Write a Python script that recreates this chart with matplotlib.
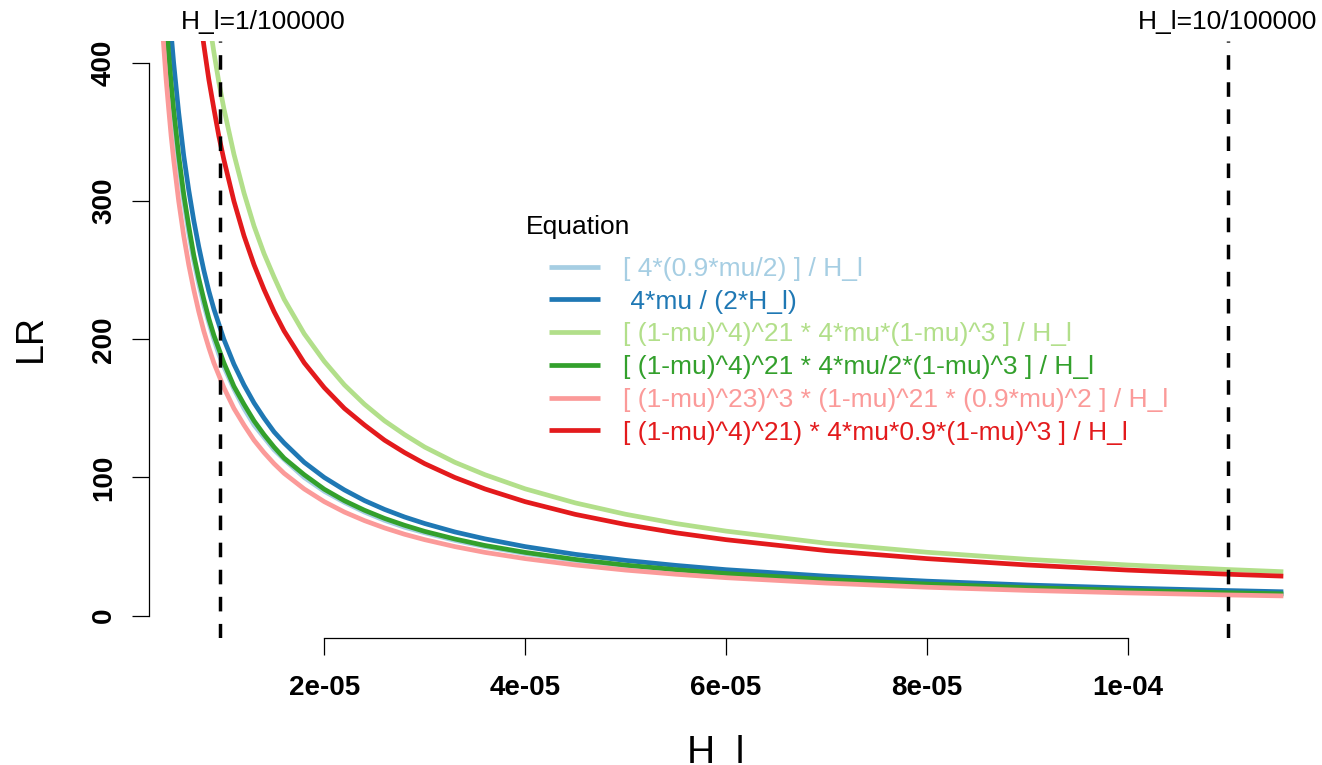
import matplotlib
matplotlib.use("Agg")
import matplotlib.pyplot as plt

plt.rcParams['font.family'] = ['Liberation Sans', 'DejaVu Sans']

# H_l values (x) and LR
h_l = [0.35e-5, 0.375e-5, 0.4e-5, 0.425e-5, 0.45e-5, 0.475e-5, 0.5e-5,
       0.55e-5, 0.6e-5, 0.65e-5, 0.7e-5, 0.75e-5, 0.8e-5, 0.85e-5, 0.9e-5, 0.95e-5, 1.0e-5,
       1.1e-5, 1.2e-5, 1.3e-5, 1.4e-5, 1.5e-5, 1.6e-5, 1.8e-5, 2.0e-5,
       2.2e-5, 2.4e-5, 2.6e-5, 2.8e-5, 3.0e-5,
       3.3e-5, 3.6e-5, 4.0e-5, 4.5e-5, 5.0e-5, 5.5e-5, 6.0e-5,
       7.0e-5, 8.0e-5, 9.0e-5, 10.0e-5, 11.0e-5, 11.55e-5]

lr_light_blue = [514, 480, 450, 424, 400, 379, 360,
                 327, 300, 277, 257, 240, 225, 212, 200, 189, 180,
                 164, 150, 138, 129, 120, 113, 100, 90,
                 82, 75, 69, 64, 60,
                 54.5, 50, 45, 40, 36, 32.7, 30,
                 25.7, 22.5, 20, 18, 16.4, 15.6]
lr_blue = [571, 533, 500, 471, 444, 421, 400,
           364, 333, 308, 286, 267, 250, 235, 222, 211, 200,
           182, 167, 154, 143, 133, 125, 111, 100,
           91, 83.3, 76.9, 71.4, 66.7,
           60.6, 55.6, 50, 44.4, 40, 36.4, 33.3,
           28.6, 25, 22.2, 20, 18.2, 17.3]
lr_light_green = [1049, 979, 918, 864, 816, 773, 734,
                  667, 612, 565, 524, 489, 459, 432, 408, 386, 367,
                  334, 306, 282, 262, 245, 229, 204, 184,
                  167, 153, 141, 131, 122,
                  111, 102, 91.8, 81.6, 73.4, 66.7, 61.2,
                  52.4, 45.9, 40.8, 36.7, 33.4, 31.8]
lr_green = [523, 488, 458, 431, 407, 385, 366,
            333, 305, 282, 261, 244, 229, 215, 203, 193, 183,
            166, 153, 141, 131, 122, 114, 102, 91.5,
            83.2, 76.3, 70.4, 65.4, 61,
            55.5, 50.8, 45.8, 40.7, 36.6, 33.3, 30.5,
            26.1, 22.9, 20.3, 18.3, 16.6, 15.8]
lr_pink = [471, 440, 413, 388, 367, 347, 330,
           300, 275, 254, 236, 220, 206, 194, 183, 174, 165,
           150, 138, 127, 118, 110, 103, 91.7, 82.5,
           75, 68.8, 63.5, 58.9, 55,
           50, 45.8, 41.3, 36.7, 33, 30, 27.5,
           23.6, 20.6, 18.3, 16.5, 15, 14.3]
lr_red = [943, 880, 825, 776, 733, 695, 660,
          600, 550, 508, 471, 440, 413, 388, 367, 347, 330,
          300, 275, 254, 236, 220, 206, 183, 165,
          150, 138, 127, 118, 110,
          100, 91.7, 82.5, 73.3, 66, 60, 55,
          47.1, 41.3, 36.7, 33, 30, 28.6]

labels = [
    "[ 4*(0.9*mu/2) ] / H_l",
    " 4*mu / (2*H_l)",
    "[ (1-mu)^4)^21 * 4*mu*(1-mu)^3 ] / H_l",
    "[ (1-mu)^4)^21 * 4*mu/2*(1-mu)^3 ] / H_l",
    "[ (1-mu)^23)^3 * (1-mu)^21 * (0.9*mu)^2 ] / H_l",
    "[ (1-mu)^4)^21) * 4*mu*0.9*(1-mu)^3 ] / H_l",
]
colors = ['#A6CEE3', '#1F78B4', '#B2DF8A', '#33A02C', '#FB9A99', '#E31A1C']
series = [lr_light_blue, lr_blue, lr_light_green, lr_green, lr_pink, lr_red]

vlines = [0.96e-5, 1.1e-4]
vline_labels = ["H_l=1/100000", "H_l=10/100000"]

W, H = 1322, 765
fig = plt.figure(figsize=(W / 100, H / 100), dpi=100)
ax = fig.add_axes([149 / W, (H - 637.8) / H, (W - 149) / W, (637.8 - 40.8) / H])

for y, lab, c in zip(series, labels, colors):
    ax.plot(h_l, y, color=c, lw=3.4, label=lab, solid_capstyle='butt')

for v in vlines:
    ax.axvline(v, color='black', lw=2.5, ls=(0, (4.2, 3.6)))

ax.set_xlim(0.2544e-5, 11.935e-5)
ax.set_ylim(-16, 416)

for s in ['top', 'right']:
    ax.spines[s].set_visible(False)
ax.spines['left'].set_bounds(0, 400)
ax.spines['bottom'].set_bounds(2e-5, 1e-4)
for s in ['left', 'bottom']:
    ax.spines[s].set_linewidth(0.9)

ax.set_xticks([2e-5, 4e-5, 6e-5, 8e-5, 1e-4])
ax.set_xticklabels(["2e-05", "4e-05", "6e-05", "8e-05", "1e-04"], fontweight='bold', fontsize=20)
ax.set_yticks([0, 100, 200, 300, 400])
ax.set_yticklabels(["0", "100", "200", "300", "400"], fontweight='bold', fontsize=20)
ax.tick_params(axis='x', length=12, width=0.9, pad=15)
ax.tick_params(axis='y', length=12, width=0.9, pad=11, labelrotation=90)
for t in ax.get_yticklabels():
    t.set_va('center')

leg = ax.legend(loc='upper left', bbox_to_anchor=(549 / W, 1 - 257 / H), bbox_transform=fig.transFigure,
                frameon=False, fontsize=19, labelcolor='linecolor', handlelength=1.93,
                handletextpad=0.87, labelspacing=0.33, borderpad=0, borderaxespad=0)
fig.text(526 / W, 1 - 227 / H, "Equation", fontsize=19, ha='left', va='center')

fig.text(263 / W, 1 - 22 / H, vline_labels[0], fontsize=19, ha='center', va='center')
fig.text(1227.5 / W, 1 - 22 / H, vline_labels[1], fontsize=19, ha='center', va='center')

fig.text(31 / W, 1 - 338 / H, "LR", fontsize=27, rotation=90, ha='center', va='center')
fig.text(716 / W, 2 / H, "H_l", fontsize=28, ha='center', va='baseline')

fig.savefig("out.png", dpi=100)
